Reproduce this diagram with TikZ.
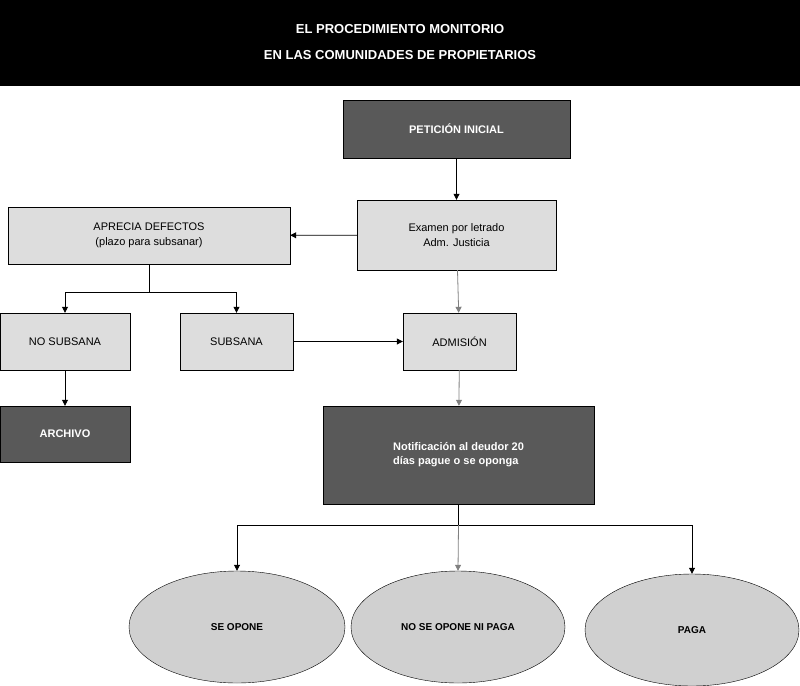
\documentclass[tikz,border=0pt]{standalone}
\usepackage{fontspec}
\setmainfont{Liberation Sans}
\usetikzlibrary{arrows.meta,shapes.geometric}
\definecolor{dk}{HTML}{595959}
\definecolor{lt}{HTML}{DDDDDD}
\definecolor{el}{HTML}{D0D0D0}
\begin{document}
\begin{tikzpicture}[x=1pt,y=-1pt,
 dark/.style={draw=black,fill=dk,text=white,font=\bfseries\fontsize{11}{14}\selectfont,inner sep=0,align=center},
 light/.style={draw=black,fill=lt,font=\fontsize{11}{15}\selectfont,inner sep=0,align=center},
 ell/.style={ellipse,draw=black,fill=el,font=\bfseries\fontsize{10}{12}\selectfont,inner sep=0},
 ar/.style={-{Triangle[length=6pt,width=6pt]},line width=0.8pt}]
\useasboundingbox (0,0) rectangle (800,685);
\fill[black] (0,0) rectangle (800,86);
\node[text=white,font=\bfseries\fontsize{13}{26}\selectfont,align=center] (title) at (400,42) {EL PROCEDIMIENTO MONITORIO\\EN LAS COMUNIDADES DE PROPIETARIOS};
\node[dark,minimum width=227,minimum height=58] (pet) at (456.5,129) {PETICIÓN INICIAL};
\node[light,minimum width=199,minimum height=70] (exa) at (456.5,235) {Examen por letrado\\Adm. Justicia};
\node[light,minimum width=282,minimum height=57] (apr) at (149,235.5) {APRECIA DEFECTOS\\(plazo para subsanar)};
\node[light,minimum width=130,minimum height=57] (nos) at (65,341.5) {NO SUBSANA};
\node[light,minimum width=113,minimum height=57] (sub) at (236.5,341.5) {SUBSANA};
\node[light,minimum width=113,minimum height=57] (adm) at (459.5,341.5) {ADMISIÓN};
\node[dark,minimum width=130,minimum height=56] (arc) at (65,434) {ARCHIVO};
\node[dark,minimum width=271,minimum height=98,align=left] (not) at (458.5,455) {Notificación al deudor 20\\días pague o se oponga};
\node[ell,minimum width=216,minimum height=112] (op) at (237,627) {SE OPONE};
\node[ell,minimum width=214,minimum height=112] (nop) at (458,627) {NO SE OPONE NI PAGA};
\node[ell,minimum width=214,minimum height=112] (pag) at (692,630) {PAGA};
\draw[ar] (pet) -- (exa);
\draw[ar] (exa) -- (apr);
\draw[ar,gray] (exa) -- (adm);
\draw[ar] (sub) -- (adm);
\draw[ar] (nos) -- (arc);
\draw[ar,gray] (adm) -- (not);
\coordinate (j1) at (149,292);
\draw[line width=0.8pt] (apr.south) -- (j1);
\draw[ar] (j1) -| (nos.north);
\draw[ar] (j1) -| (sub.north);
\coordinate (j2) at (458.5,525);
\draw[line width=0.8pt] (not.south) -- (j2);
\draw[ar] (j2) -| (op.north);
\draw[ar,gray] (j2) -- (nop.north);
\draw[ar] (j2) -| (pag.north);
\end{tikzpicture}
\end{document}
